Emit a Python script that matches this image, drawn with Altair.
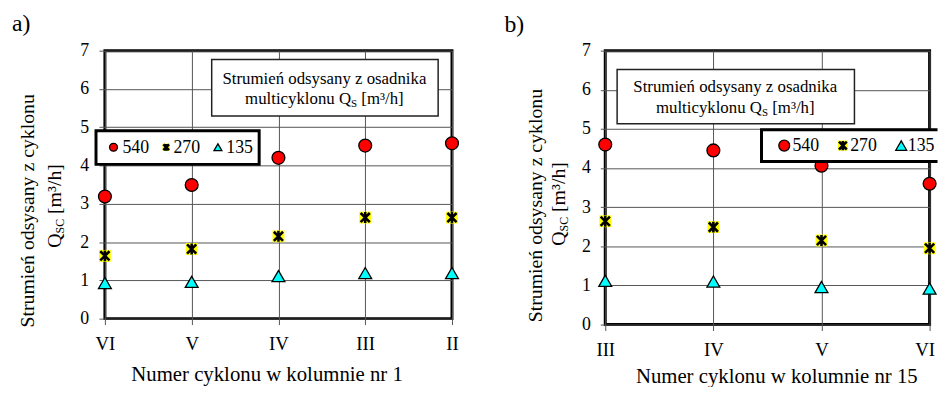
import altair as alt
import pandas as pd

FONT = "Liberation Serif"

# ---- data ----
cyc_a = ["VI", "V", "IV", "III", "II"]
a_540 = [3.19, 3.49, 4.20, 4.52, 4.58]
a_270 = [1.64, 1.82, 2.15, 2.64, 2.64]
a_135 = [0.93, 0.96, 1.11, 1.19, 1.19]

cyc_b = ["III", "IV", "V", "VI"]
b_540 = [4.60, 4.45, 4.06, 3.60]
b_270 = [2.64, 2.49, 2.15, 1.95]
b_135 = [1.12, 1.10, 0.96, 0.92]

series = ["540", "270", "135"]
fills = ["#FF0000", "#FFFF00", "#00FFFF"]
y_ticks = [0, 1, 2, 3, 4, 5, 6, 7]

panel_labels = ["a)", "b)"]
x_titles = ["Numer cyklonu w kolumnie nr 1", "Numer cyklonu w kolumnie nr 15"]
ytitle_1 = "Strumień odsysany z cyklonu"
ytitle_2 = ["Q", "SC", "[m³/h]"]
box_1 = "Strumień odsysany z osadnika"
box_2 = ["multicyklonu Q", "S", "[m³/h]"]

ASTERISK = "M-0.8,-0.8L0.8,0.8M-0.8,0.8L0.8,-0.8M0,-0.95L0,0.95"

# Times-like advance widths (per 1000 em) for text placement
W = {" ": 250, "S": 556, "t": 278, "r": 333, "u": 500, "m": 778, "i": 278, "e": 444,
     "ń": 500, "o": 500, "d": 500, "s": 389, "y": 500, "a": 444, "n": 500, "z": 444,
     "k": 500, "l": 278, "c": 444, "Q": 722, "C": 667, "[": 333, "]": 333, "³": 300,
     "/": 278, "h": 500}


def tw(s, size):
    return sum(W.get(c, 500) for c in s) * size / 1000.0


one = pd.DataFrame({"k": [0]})
GRID = "#555555"


def txt(s, x, y, size, align="left", angle=0):
    return alt.Chart(one).mark_text(
        text=s, font=FONT, fontSize=size, align=align, baseline="alphabetic",
        angle=angle, color="black"
    ).encode(x=alt.value(x), y=alt.value(y))


def box(x1, x2, y1, y2, sw, col):
    return alt.Chart(one).mark_rect(fill="white", stroke=col, strokeWidth=sw).encode(
        x=alt.value(x1), x2=alt.value(x2), y=alt.value(y1), y2=alt.value(y2))


def open_box(x1, x2, y1, y2, sw):
    # white box whose right side runs off the page (no right border)
    out = [alt.Chart(one).mark_rect(fill="white", strokeWidth=0).encode(
        x=alt.value(x1), x2=alt.value(x2), y=alt.value(y1), y2=alt.value(y2))]
    out.append(alt.Chart(one).mark_rule(color="black", strokeWidth=sw).encode(
        x=alt.value(x1 - sw / 2), x2=alt.value(x2), y=alt.value(y1)))
    out.append(alt.Chart(one).mark_rule(color="black", strokeWidth=sw).encode(
        x=alt.value(x1 - sw / 2), x2=alt.value(x2), y=alt.value(y2)))
    out.append(alt.Chart(one).mark_rule(color="black", strokeWidth=sw).encode(
        x=alt.value(x1), y=alt.value(y1), y2=alt.value(y2)))
    return out


def marker_specs(name, fill, s):
    if name == "540":
        return [dict(shape="circle", size=s, filled=True, fill=fill, stroke="black", strokeWidth=1.3)]
    if name == "270":
        return [dict(shape="square", size=s * 0.85, filled=True, fill=fill, strokeWidth=0),
                dict(shape=ASTERISK, size=s * 0.8, filled=False, stroke="black", strokeWidth=2.6)]
    return [dict(shape="triangle-up", size=s, filled=True, fill=fill, stroke="black", strokeWidth=1.3)]


def panel(cats, vals, g):
    edge = g["edge_label"]
    if edge:
        test = "datum.value === '%s'" % edge
        lab_align = alt.condition(test, alt.value("right"), alt.value("center"))
        lab_off = alt.condition(test, alt.value(5), alt.value(0))
    else:
        lab_align = "center"
        lab_off = 0
    x_enc = alt.X("cyc:N", sort=cats,
                  scale=alt.Scale(type="point", domain=cats, padding=0),
                  axis=alt.Axis(title=g["x_title"], labelAngle=0, labelFont=FONT,
                                labelFontSize=19, labelColor="black", labelPadding=10,
                                labelAlign=lab_align, labelOffset=lab_off,
                                tickSize=6, tickColor="#555", domain=False,
                                grid=True, gridColor=GRID, gridWidth=1,
                                titleFont=FONT, titleFontSize=21, titleFontWeight="normal",
                                titleColor="black", titleX=g["xt"][0], titleY=g["xt"][1],
                                titleBaseline="alphabetic", titleAlign="center"))
    y_enc = alt.Y("v:Q", scale=alt.Scale(domain=[0, 7], nice=False, zero=True),
                  axis=alt.Axis(title=None, values=y_ticks, labelFont=FONT, labelFontSize=18,
                                labelColor="black", labelPadding=g["ylp"], tickSize=g["yts"],
                                tickColor="#555", domain=False, grid=True,
                                gridColor=GRID, gridWidth=1))
    layers = []
    for name, fill, v in zip(series, fills, vals):
        df = pd.DataFrame({"cyc": cats, "v": v})
        for spec in marker_specs(name, fill, 169):
            layers.append(alt.Chart(df).mark_point(opacity=1, **spec).encode(x=x_enc, y=y_enc))

    # panel label
    layers.append(txt(g["label"], g["lab"][0], g["lab"][1], 24))

    # y axis title (two lines, rotated, with subscript)
    layers.append(txt(ytitle_1, g["yt1"][0], g["yt1"][1], 20, align="center", angle=270))
    q, sub, rest = ytitle_2
    sp = tw(" ", 20)
    total = tw(q, 20) + tw(sub, 12) + sp + tw(rest, 20)
    y0 = g["yt2"][1] + total / 2
    xb = g["yt2"][0]
    layers.append(txt(q, xb, y0, 20, angle=270))
    y1 = y0 - tw(q, 20)
    layers.append(txt(sub, xb + 3, y1, 12, angle=270))
    y2 = y1 - tw(sub, 12) - sp
    layers.append(txt(rest, xb, y2, 20, angle=270))

    # text box
    bx = g["box"]
    layers.append(box(bx[0], bx[1], bx[2], bx[3], 1.5, "#222"))
    layers.append(txt(box_1, g["box_cx"], g["box_b"][0], 17, align="center"))
    a, s, r = box_2
    sp = tw(" ", 17)
    total = tw(a, 17) + tw(s, 11) + sp + tw(r, 17)
    sx = g["box_cx"] - total / 2
    layers.append(txt(a, sx, g["box_b"][1], 17))
    sx2 = sx + tw(a, 17)
    layers.append(txt(s, sx2, g["box_b"][1] + 3, 11))
    layers.append(txt(r, sx2 + tw(s, 11) + sp, g["box_b"][1], 17))

    # legend box
    lb = g["leg_box"]
    if g["leg_open"]:
        layers.extend(open_box(lb[0], lb[1], lb[2], lb[3], 3))
    else:
        layers.append(box(lb[0], lb[1], lb[2], lb[3], 3, "black"))
    for name, fill, (sxp, syp), tx in zip(series, fills, g["leg_sym"], g["leg_txt"]):
        for spec in marker_specs(name, fill, g["leg_size"]):
            layers.append(alt.Chart(one).mark_point(opacity=1, **spec).encode(
                x=alt.value(sxp), y=alt.value(syp)))
        layers.append(txt(name, tx, g["leg_base"], 18))

    return alt.layer(*layers).properties(width=g["w"], height=g["h"])


GA = dict(w=351, h=271, label=panel_labels[0], lab=(-94, -20), x_title=x_titles[0],
          xt=(163.5, 63), ylp=10.5, yts=6, edge_label=None,
          yt1=(-72, 162), yt2=(-44, 157),
          box=(108, 337, 9, 66), box_cx=222, box_b=(34, 54),
          leg_box=(-9, 156, 81, 115), leg_open=False,
          leg_sym=[(8.7, 97.7), (62, 97.7), (114.3, 97.7)],
          leg_txt=[17.7, 69.3, 122.7], leg_base=103.7, leg_size=64)

GB = dict(w=328, h=277, label=panel_labels[1], lab=(-102, -19), x_title=x_titles[1],
          xt=(173, 58.5), ylp=10, yts=5, edge_label="VI",
          yt1=(-64, 156.7), yt2=(-41, 155),
          box=(12, 252, 19, 74), box_cx=131.5, box_b=(42, 63),
          leg_box=(158, 336, 80, 112), leg_open=True,
          leg_sym=[(181, 96), (240.3, 96), (299.3, 96)],
          leg_txt=[189.3, 247.7, 306], leg_base=101.7, leg_size=121)

pa = panel(cyc_a, [a_540, a_270, a_135], GA)
pb = panel(cyc_b, [b_540, b_270, b_135], GB)

chart = alt.hconcat(pa, pb, spacing=39).configure_view(
    stroke="black", strokeWidth=3
).properties(padding={"left": 2, "top": 0, "right": -3.5, "bottom": -3})

chart.save("out.html", embed_options={"renderer": "svg", "actions": False})
